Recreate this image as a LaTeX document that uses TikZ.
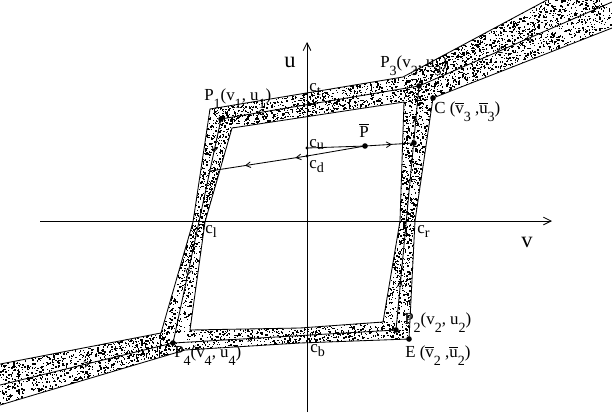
\documentclass[tikz,border=0pt]{standalone}
\usepackage{fontspec}
\setmainfont{Liberation Serif}
\usetikzlibrary{arrows.meta, decorations.markings}

\newcommand{\sub}[2][6pt]{\raisebox{-#1}{\fontsize{10}{10}\selectfont #2}}
\newcommand{\ob}[1]{$\overline{\mbox{#1}}$}
% outline of the noisy band (outer border, then the hole)
\newcommand{\bandpath}{(210,109) -- (403,77) -- (560,-7) -- (630,-7) -- (630,21) -- (C)
      -- (415,221) -- (E) -- (300,343) -- (185,350) -- (-10,408)
      -- (-10,366) -- (161,333) -- (193,222) -- cycle
      (232,128) -- (404,102) -- (400,221) -- (383,322) -- (300,328)
      -- (190,330) -- (205,222) -- cycle}

\begin{document}
\begin{tikzpicture}[x=0.25mm, y=-0.25mm,
    every node/.style={font=\fontsize{12}{14}\selectfont, inner sep=0pt},
    axislbl/.style={font=\fontsize{16}{18}\selectfont},
    thinline/.style={line width=0.6pt},
    bigdot/.style={circle, fill, inner sep=0pt, minimum size=1.4mm},
    smalldot/.style={circle, fill, inner sep=0pt, minimum size=0.8mm},
    axisarrow/.style={line width=0.6pt, -{Straight Barb[length=5.5pt,width=5.5pt]}},
    flowat/.style={postaction={decorate}, decoration={markings,
        mark=at position #1 with {\arrow{Straight Barb[length=3.5pt,width=4pt]}}}},
    flowtwo/.style 2 args={postaction={decorate}, decoration={markings,
        mark=at position #1 with {\arrow{Straight Barb[length=3.5pt,width=4pt]}},
        mark=at position #2 with {\arrow{Straight Barb[length=3.5pt,width=4pt]}}}}
  ]
  \useasboundingbox (0,0) rectangle (612,417);

  % points of the cycle
  \coordinate (P1) at (221,119);
  \coordinate (P3) at (419,86);
  \coordinate (P2) at (396,330);
  \coordinate (P4) at (173,343);
  \coordinate (C) at (433,98);
  \coordinate (E) at (409,339);
  \coordinate (UR) at (612,2);
  \coordinate (LL) at (0,385);

  % noisy band: random stipple, one quad per piece of the band
  \pgfmathsetseed{3}
  \begin{scope}
    \clip (0,0) rectangle (612,417);
    \begin{scope}[even odd rule]
      \clip \bandpath;
      \foreach \ax/\ay/\bx/\by/\cx/\cy/\dx/\dy/\n in {
          210/109/403/77/404/102/232/128/760,
          403/77/575/-18/630/22/404/110/1600,
          435/96/417/221/399/221/404/102/540,
          417/221/411/341/381/323/399/221/470,
          409/341/183/352/188/329/384/321/715,
          208/107/191/222/207/222/234/127/440,
          191/222/159/335/192/332/207/222/440,
          163/331/-10/364/-10/410/185/351/1060}{
        \foreach \k in {1,...,\n}{
          \pgfmathsetmacro{\rs}{rnd}
          \pgfmathsetmacro{\rt}{rnd}
          \pgfmathsetmacro{\rw}{0.7+0.5*rnd}
          \pgfmathsetmacro{\px}{(1-\rt)*((1-\rs)*(\ax)+\rs*(\bx))+\rt*((1-\rs)*(\dx)+\rs*(\cx))}
          \pgfmathsetmacro{\py}{(1-\rt)*((1-\rs)*(\ay)+\rs*(\by))+\rt*((1-\rs)*(\dy)+\rs*(\cy))}
          \pgfpathrectangle{\pgfpointxy{\px}{\py}}{\pgfqpoint{\rw pt}{\rw pt}}
          \pgfusepath{fill}
        }
      }
    \end{scope}
    \draw[thinline] \bandpath;
  \end{scope}

  % deterministic cycle
  \draw[thinline, flowtwo={0.2}{0.87}] (P2) -- (P3);
  \draw[thinline, flowat=0.82] (P3) -- (P1);
  \draw[thinline, flowtwo={0.15}{0.7}] (P1) -- (P4);
  \draw[thinline, flowat=0.36] (P4) -- (P2);
  \draw[thinline, flowtwo={0.45}{0.6}] (UR) -- (P3);
  \draw[thinline, flowtwo={0.52}{0.7}] (LL) -- (P4);

  % axes
  \coordinate (vS) at (40,221);
  \coordinate (vE) at (552,221);
  \coordinate (uS) at (307,412);
  \coordinate (uE) at (307,42);
  \draw[axisarrow] (vS) -- (vE);
  \draw[axisarrow] (uS) -- (uE);
  \node[axislbl, anchor=base west] (lu) at (284,67) {u};
  \node[axislbl, anchor=base west] (lv) at (521,247) {v};

  % trajectories from c_u and c_d
  \coordinate (cu) at (307,148);
  \coordinate (cd) at (307,156);
  \coordinate (Pb) at (365,146);
  \coordinate (Q) at (414,143);
  \coordinate (L) at (210,171);
  \draw[thinline] (cu) -- (Pb);
  \draw[thinline, flowat=0.55] (Pb) -- (Q);
  \draw[thinline] (Pb) -- (cd);
  \draw[thinline, flowtwo={0.12}{0.64}] (cd) -- (L);

  % dots
  \node[bigdot] (dP1) at (P1) {};
  \node[bigdot] (dP2) at (P2) {};
  \node[bigdot] (dP3) at (P3) {};
  \node[bigdot] (dP4) at (P4) {};
  \node[bigdot] (dC) at (C) {};
  \node[bigdot] (dE) at (E) {};
  \node[bigdot] (dPb) at (Pb) {};
  \node[bigdot] (dQ) at (Q) {};
  \node[smalldot] (dcu) at (cu) {};
  \node[smalldot] (dcd) at (cd) {};

  % labels
  \node[anchor=base west] (lP1) at (204,100) {P\sub{1}(v\sub{1}, u\sub{1})};
  \node[anchor=base west] (lP3) at (380,67) {P\sub{3}(v\sub{3}, u\sub{3})};
  \node[anchor=base west] (lC) at (434,113) {C (\ob{v}\sub{3} ,\ob{u}\sub{3})};
  \node[anchor=base] (lPb) at (364,137) {\ob{P}};
  \node[anchor=base west] (lct) at (309,91) {c\sub[3pt]{t}};
  \node[anchor=base west] (lcu) at (309,147) {c\sub[2pt]{u}};
  \node[anchor=base west] (lcd) at (309,168) {c\sub[3pt]{d}};
  \node[anchor=base west] (lcl) at (205,233) {c\sub[3pt]{l}};
  \node[anchor=base west] (lcr) at (417,233) {c\sub[3pt]{r}};
  \node[anchor=base west] (lcb) at (310,352) {c\sub[3pt]{b}};
  \node[anchor=base west] (lP2) at (404,324) {P\sub{2}(v\sub{2}, u\sub{2})};
  \node[anchor=base west] (lE) at (405,357) {E (\ob{v}\sub{2} ,\ob{u}\sub{2})};
  \node[anchor=base west] (lP4) at (174,357) {P\sub{4}(v\sub{4}, u\sub{4})};
\end{tikzpicture}
\end{document}
